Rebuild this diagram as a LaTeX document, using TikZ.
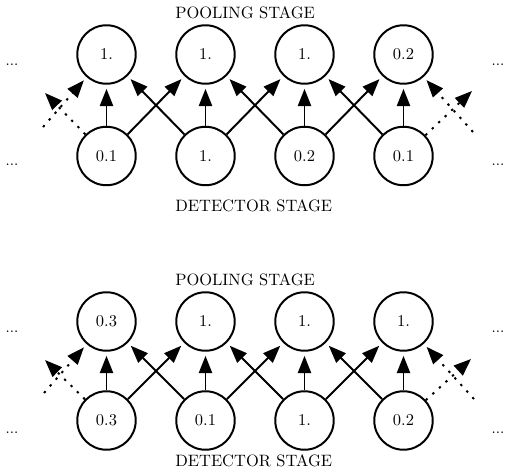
\documentclass[tikz,border=0pt]{standalone}
\usetikzlibrary{arrows.meta}
\begin{document}
\begin{tikzpicture}[x=0.607pt,y=-0.607pt,
  unit/.style={circle,draw,line width=1.2pt,minimum size=35.5pt,inner sep=0pt},
  conn/.style={line width=1.2pt,-{Triangle[length=10.5pt,width=8pt]},shorten >=2.5pt},
  dotconn/.style={line width=1.2pt,-{Triangle[length=10.5pt,width=8pt]},dash pattern=on 1.4pt off 4pt},
  stagelabel/.style={anchor=base west,inner sep=0pt},
  etc/.style={font=\small,inner sep=0pt,anchor=base}]
\useasboundingbox (0,0) rectangle (505,476);

% ---------- top panel ----------
\node[stagelabel] (tpl) at (175,18.3) {POOLING STAGE};
\node[stagelabel] (tdl) at (175,211.7) {DETECTOR STAGE};
\node[unit] (tp1) at (106.5,54.5) {1.};
\node[unit] (tp2) at (205.5,54.5) {1.};
\node[unit] (tp3) at (304.5,54.5) {1.};
\node[unit] (tp4) at (403.5,54.5) {0.2};
\node[unit] (td1) at (106.5,156) {0.1};
\node[unit] (td2) at (205.5,156) {1.};
\node[unit] (td3) at (304.5,156) {0.2};
\node[unit] (td4) at (403.5,156) {0.1};
\node[etc] (tdl1) at (12,65) {...};
\node[etc] (tdl2) at (12,165) {...};
\node[etc] (tdr1) at (498,65) {...};
\node[etc] (tdr2) at (498,165) {...};
\foreach \i in {1,...,4} {\draw[conn] (td\i) -- (tp\i);}
\foreach \i/\j in {1/2,2/3,3/4} {\draw[conn] (td\i) -- (tp\j); \draw[conn] (td\j) -- (tp\i);}
\coordinate (tlt) at (45,93);
\coordinate (tls) at (43,127);
\coordinate (trt) at (472,91);
\coordinate (trs) at (473,132);
\draw[dotconn] (td1) -- (tlt);
\draw[dotconn,shorten >=2.5pt] (tls) -- (tp1);
\draw[dotconn] (td4) -- (trt);
\draw[dotconn,shorten >=2.5pt] (trs) -- (tp4);

% ---------- bottom panel ----------
\node[stagelabel] (bpl) at (175,285) {POOLING STAGE};
\node[stagelabel] (bdl) at (175,466.7) {DETECTOR STAGE};
\node[unit] (bp1) at (106.5,321.5) {0.3};
\node[unit] (bp2) at (205.5,321.5) {1.};
\node[unit] (bp3) at (304.5,321.5) {1.};
\node[unit] (bp4) at (403.5,321.5) {1.};
\node[unit] (bd1) at (106.5,420.5) {0.3};
\node[unit] (bd2) at (205.5,420.5) {0.1};
\node[unit] (bd3) at (304.5,420.5) {1.};
\node[unit] (bd4) at (403.5,420.5) {0.2};
\node[etc] (bdl1) at (12,332) {...};
\node[etc] (bdl2) at (12,433) {...};
\node[etc] (bdr1) at (498,332) {...};
\node[etc] (bdr2) at (498,433) {...};
\foreach \i in {1,...,4} {\draw[conn] (bd\i) -- (bp\i);}
\foreach \i/\j in {1/2,2/3,3/4} {\draw[conn] (bd\i) -- (bp\j); \draw[conn] (bd\j) -- (bp\i);}
\coordinate (blt) at (45,360);
\coordinate (bls) at (44,393);
\coordinate (brt) at (471,359);
\coordinate (brs) at (474,399);
\draw[dotconn] (bd1) -- (blt);
\draw[dotconn,shorten >=2.5pt] (bls) -- (bp1);
\draw[dotconn] (bd4) -- (brt);
\draw[dotconn,shorten >=2.5pt] (brs) -- (bp4);
\end{tikzpicture}
\end{document}
